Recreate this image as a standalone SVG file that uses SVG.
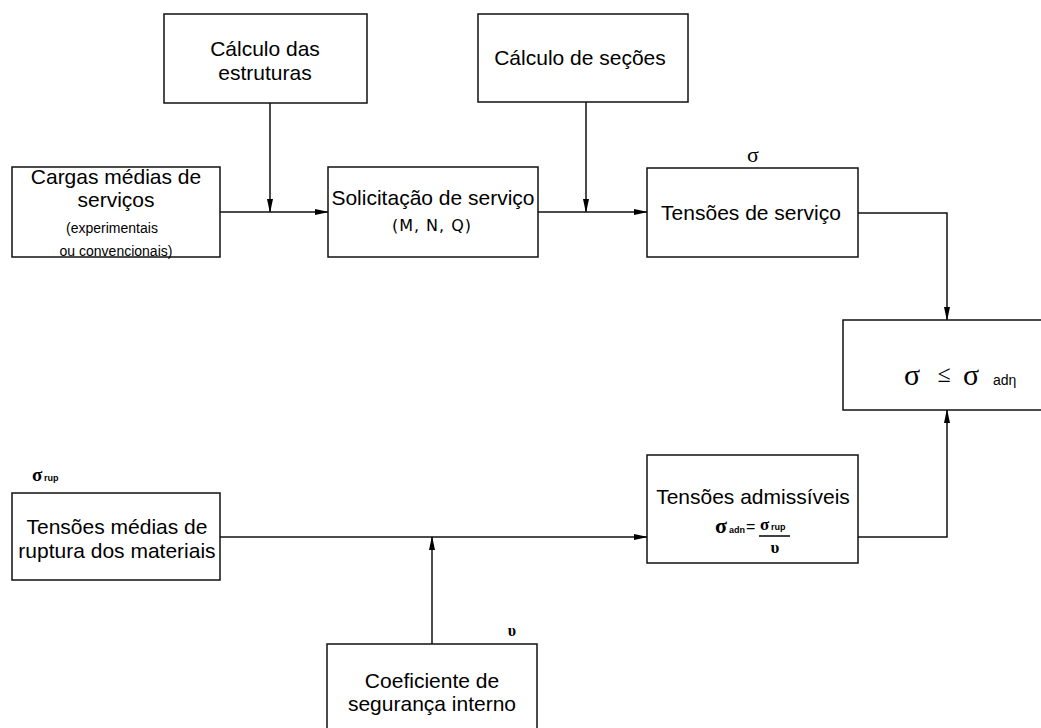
<svg xmlns="http://www.w3.org/2000/svg" width="1041" height="728" viewBox="0 0 1041 728">
<style>
.box{fill:#fff;stroke:#111;stroke-width:1.5}
.t{font-family:"Liberation Sans",Arial,sans-serif;font-size:21px;fill:#000;text-anchor:middle}
.s{font-family:"Liberation Sans",Arial,sans-serif;font-size:14px;fill:#000;text-anchor:middle}
.m{font-family:"DejaVu Sans",sans-serif;font-size:16px;fill:#000;text-anchor:middle;letter-spacing:1px}
.g{font-family:"Liberation Serif","DejaVu Serif",serif;fill:#000}
.c{fill:none;stroke:#111;stroke-width:1.5}
</style>
<defs>
<marker id="ah" markerWidth="14" markerHeight="8" refX="13" refY="4" orient="auto" markerUnits="userSpaceOnUse">
<path d="M0,1 L14,4 L0,7 Z" fill="#000"/>
</marker>
</defs>
<rect width="1041" height="728" fill="#fff"/>
<g id="connectors">
<path class="c" d="M270,103 V212" marker-end="url(#ah)"/>
<path class="c" d="M220,212 H328" marker-end="url(#ah)"/>
<path class="c" d="M586,102 V212" marker-end="url(#ah)"/>
<path class="c" d="M538,212 H647" marker-end="url(#ah)"/>
<path class="c" d="M858,213 H947 V320" marker-end="url(#ah)"/>
<path class="c" d="M858,537 H947 V410" marker-end="url(#ah)"/>
<path class="c" d="M220,537 H647" marker-end="url(#ah)"/>
<path class="c" d="M432,644 V537" marker-end="url(#ah)"/>
</g>
<g id="calc-estruturas">
<rect class="box" x="164" y="14" width="203" height="89"/>
<text class="t" x="265" y="56">Cálculo das</text>
<text class="t" x="265" y="80">estruturas</text>
</g>
<g id="calc-secoes">
<rect class="box" x="478" y="14" width="210" height="88"/>
<text class="t" x="580" y="65">Cálculo de seções</text>
</g>
<g id="cargas">
<rect class="box" x="12" y="167" width="208" height="90"/>
<text class="t" x="116" y="184">Cargas médias de</text>
<text class="t" x="116" y="207">serviços</text>
<text class="s" x="112" y="233">(experimentais</text>
<text class="s" x="116" y="256">ou convencionais)</text>
</g>
<g id="solicitacao">
<rect class="box" x="328" y="167" width="210" height="90"/>
<text class="t" x="433" y="205">Solicitação de serviço</text>
<text class="m" x="432" y="231">(M,  N,  Q)</text>
</g>
<g id="tensoes-servico">
<rect class="box" x="647" y="168" width="211" height="89"/>
<text class="g" x="753" y="162" font-size="22" text-anchor="middle">σ</text>
<text class="t" x="751" y="220">Tensões de serviço</text>
</g>
<g id="verificacao">
<rect class="box" x="843" y="320" width="210" height="90"/>
<text class="g" x="912" y="385" font-size="30" text-anchor="middle">σ</text>
<text class="g" x="944" y="382" font-size="24" text-anchor="middle">≤</text>
<text class="g" x="971" y="385" font-size="30" text-anchor="middle">σ</text>
<text x="993" y="385" font-family="Liberation Sans,sans-serif" font-size="14" fill="#000">adη</text>
</g>
<g id="tensoes-admissiveis">
<rect class="box" x="647" y="455" width="211" height="108"/>
<text class="t" x="753" y="504">Tensões admissíveis</text>
<text class="g" x="715" y="533" font-size="22" font-weight="bold">σ</text>
<text x="729" y="533" font-family="Liberation Sans,sans-serif" font-size="9" font-weight="bold" fill="#000">adn</text>
<text x="746" y="532" font-family="Liberation Sans,sans-serif" font-size="16" fill="#000">=</text>
<text class="g" x="760" y="530" font-size="17" font-weight="bold">σ</text>
<text x="771" y="530" font-family="Liberation Sans,sans-serif" font-size="9" font-weight="bold" fill="#000">rup</text>
<line x1="759" y1="536" x2="790" y2="536" stroke="#000" stroke-width="1.5"/>
<text class="g" x="775" y="553" font-size="17" font-weight="bold" text-anchor="middle">υ</text>
</g>
<g id="tensoes-ruptura">
<rect class="box" x="12" y="493" width="208" height="87"/>
<text class="g" x="32" y="481" font-size="19" font-weight="bold">σ</text>
<text x="44" y="481" font-family="Liberation Sans,sans-serif" font-size="9" font-weight="bold" fill="#000">rup</text>
<text class="t" x="117" y="534">Tensões médias de</text>
<text class="t" x="117" y="558">ruptura dos materiais</text>
</g>
<g id="coeficiente">
<rect class="box" x="327" y="644" width="210" height="90"/>
<text class="g" x="512" y="636" font-size="16" font-weight="bold" text-anchor="middle">υ</text>
<text class="t" x="432" y="688">Coeficiente de</text>
<text class="t" x="432" y="711">segurança interno</text>
</g>
</svg>
